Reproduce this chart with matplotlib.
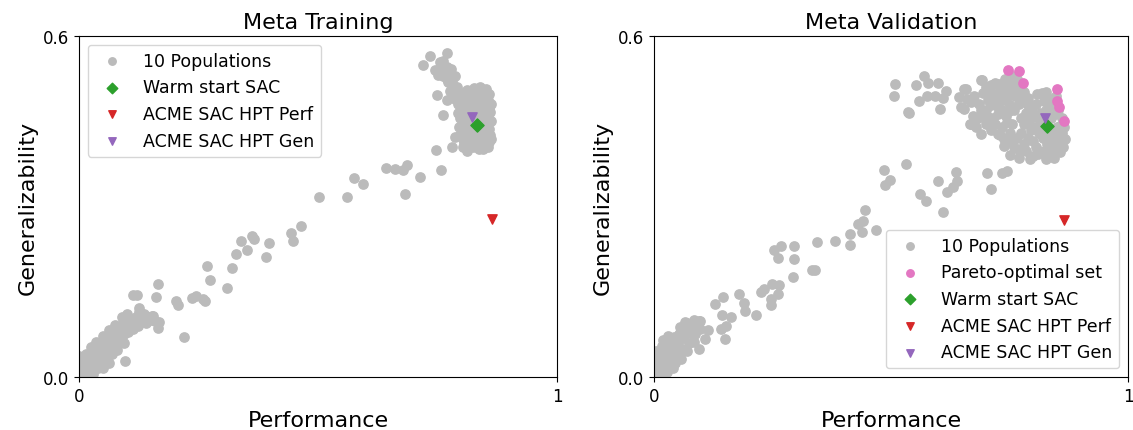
import matplotlib
matplotlib.use("Agg")
import matplotlib.pyplot as plt

# ---- Meta Training (left) ----
train_pop = [
    # dense band near origin
    (0.002, 0.005), (0.005, 0.012), (0.008, 0.020), (0.003, 0.028), (0.000, 0.037),
    (0.012, 0.008), (0.015, 0.018), (0.018, 0.030), (0.022, 0.012), (0.025, 0.022),
    (0.028, 0.038), (0.030, 0.045), (0.033, 0.028), (0.036, 0.018), (0.040, 0.035),
    (0.042, 0.050), (0.045, 0.060), (0.048, 0.040), (0.050, 0.030), (0.053, 0.052),
    (0.056, 0.065), (0.060, 0.045), (0.062, 0.058), (0.065, 0.070), (0.068, 0.050),
    (0.070, 0.062), (0.073, 0.078), (0.076, 0.055), (0.078, 0.068), (0.080, 0.085),
    (0.083, 0.072), (0.086, 0.060), (0.088, 0.080), (0.090, 0.092), (0.094, 0.075),
    (0.097, 0.088), (0.100, 0.098), (0.103, 0.080), (0.106, 0.092), (0.110, 0.100),
    (0.113, 0.085), (0.116, 0.095), (0.120, 0.105), (0.124, 0.090), (0.130, 0.100),
    (0.135, 0.110), (0.140, 0.095), (0.145, 0.105), (0.150, 0.100), (0.155, 0.108),
    (0.160, 0.098), (0.010, 0.000), (0.020, 0.002), (0.030, 0.006), (0.040, 0.015),
    (0.000, 0.015), (0.058, 0.035), (0.070, 0.040), (0.015, 0.040), (0.025, 0.052),
    (0.035, 0.062), (0.050, 0.072), (0.062, 0.082), (0.075, 0.092), (0.090, 0.105),
    (0.100, 0.110), (0.050, 0.015), (0.062, 0.025), (0.080, 0.048), (0.094, 0.060),
    # middle stretch
    (0.105, 0.102), (0.139, 0.099), (0.153, 0.108), (0.167, 0.097), (0.166, 0.087),
    (0.126, 0.121), (0.126, 0.115), (0.097, 0.029), (0.220, 0.071),
    (0.112, 0.144), (0.122, 0.144), (0.162, 0.140), (0.165, 0.164),
    (0.202, 0.134), (0.207, 0.127), (0.237, 0.139), (0.244, 0.143), (0.263, 0.133),
    (0.260, 0.137), (0.274, 0.171), (0.267, 0.195), (0.310, 0.157), (0.321, 0.191),
    (0.328, 0.217), (0.352, 0.223), (0.339, 0.239), (0.363, 0.248), (0.366, 0.243),
    (0.391, 0.211), (0.397, 0.235), (0.447, 0.239), (0.443, 0.254), (0.464, 0.265),
    (0.503, 0.317), (0.560, 0.317), (0.576, 0.350), (0.595, 0.340),
    (0.642, 0.368), (0.661, 0.366), (0.678, 0.365), (0.686, 0.373), (0.682, 0.322),
    (0.713, 0.351), (0.757, 0.364), (0.747, 0.400), (0.780, 0.404),
    (0.761, 0.461), (0.748, 0.496),
    # upper arm of the cluster
    (0.734, 0.565), (0.769, 0.570), (0.720, 0.549), (0.755, 0.554), (0.745, 0.540),
    (0.769, 0.545), (0.762, 0.530), (0.787, 0.530), (0.773, 0.519), (0.776, 0.504),
    (0.769, 0.487), (0.787, 0.489), (0.758, 0.545), (0.765, 0.538), (0.752, 0.532),
    (0.780, 0.520), (0.790, 0.510), (0.782, 0.497), (0.793, 0.480), (0.762, 0.556),
    (0.775, 0.535), (0.770, 0.525), (0.783, 0.510), (0.778, 0.542),
    # main body of the cluster
    (0.800, 0.500), (0.812, 0.505), (0.826, 0.508), (0.839, 0.510), (0.851, 0.506),
    (0.858, 0.498), (0.802, 0.486), (0.815, 0.490), (0.829, 0.494), (0.842, 0.492),
    (0.855, 0.488), (0.862, 0.480), (0.799, 0.470), (0.810, 0.474), (0.822, 0.477),
    (0.836, 0.473), (0.849, 0.476), (0.860, 0.466), (0.797, 0.455), (0.808, 0.458),
    (0.818, 0.462), (0.840, 0.458), (0.853, 0.455), (0.862, 0.450), (0.801, 0.440),
    (0.812, 0.444), (0.826, 0.438), (0.846, 0.441), (0.858, 0.437), (0.798, 0.426),
    (0.810, 0.428), (0.822, 0.424), (0.836, 0.427), (0.850, 0.423), (0.863, 0.419),
    (0.806, 0.412), (0.818, 0.410), (0.831, 0.413), (0.845, 0.408), (0.856, 0.404),
    (0.787, 0.422), (0.804, 0.404), (0.811, 0.398), (0.846, 0.401),
    (0.806, 0.494), (0.820, 0.498), (0.834, 0.500), (0.848, 0.497), (0.805, 0.480),
    (0.818, 0.484), (0.832, 0.484), (0.846, 0.484), (0.858, 0.474), (0.804, 0.464),
    (0.828, 0.466), (0.842, 0.466), (0.855, 0.462), (0.803, 0.448), (0.818, 0.450),
    (0.832, 0.452), (0.850, 0.448), (0.806, 0.434), (0.818, 0.436), (0.838, 0.435),
    (0.852, 0.432), (0.804, 0.418), (0.826, 0.418), (0.840, 0.416), (0.858, 0.414),
    (0.824, 0.404), (0.836, 0.402), (0.860, 0.426), (0.795, 0.440), (0.792, 0.465),
]
train_warm = (0.833, 0.444)
train_perf = (0.864, 0.278)
train_gen = (0.822, 0.457)

# ---- Meta Validation (right) ----
val_pop = [
    # dense band near origin
    (0.000, 0.026), (0.003, 0.005), (0.006, 0.015), (0.010, 0.003), (0.012, 0.022),
    (0.014, 0.040), (0.016, 0.055), (0.018, 0.010), (0.022, 0.030), (0.025, 0.045),
    (0.027, 0.009), (0.030, 0.020), (0.033, 0.060), (0.036, 0.035), (0.040, 0.050),
    (0.042, 0.070), (0.045, 0.025), (0.048, 0.042), (0.050, 0.060), (0.053, 0.075),
    (0.056, 0.032), (0.060, 0.050), (0.062, 0.068), (0.066, 0.085), (0.066, 0.097),
    (0.070, 0.045), (0.073, 0.060), (0.076, 0.078), (0.080, 0.090), (0.084, 0.062),
    (0.086, 0.075), (0.090, 0.088), (0.094, 0.098), (0.098, 0.085), (0.098, 0.099),
    (0.078, 0.095), (0.020, 0.000), (0.040, 0.015), (0.008, 0.032), (0.020, 0.065),
    (0.030, 0.072), (0.055, 0.088), (0.085, 0.100), (0.004, 0.045),
    # middle stretch
    (0.094, 0.050), (0.068, 0.095), (0.095, 0.096), (0.107, 0.067), (0.114, 0.082),
    (0.149, 0.067), (0.142, 0.085), (0.153, 0.090), (0.163, 0.105), (0.144, 0.109),
    (0.128, 0.129), (0.145, 0.140), (0.192, 0.116), (0.190, 0.131), (0.180, 0.146),
    (0.216, 0.109), (0.247, 0.127), (0.246, 0.137), (0.262, 0.146), (0.225, 0.149),
    (0.232, 0.155), (0.248, 0.163), (0.264, 0.161), (0.262, 0.209), (0.253, 0.224),
    (0.267, 0.231), (0.295, 0.208), (0.295, 0.230), (0.293, 0.176), (0.333, 0.189),
    (0.340, 0.189), (0.344, 0.237), (0.382, 0.240), (0.414, 0.233), (0.414, 0.251),
    (0.439, 0.255), (0.431, 0.269), (0.441, 0.275), (0.445, 0.293), (0.469, 0.258),
    (0.485, 0.364), (0.497, 0.347), (0.488, 0.337), (0.532, 0.375), (0.561, 0.322),
    (0.574, 0.310), (0.600, 0.344), (0.619, 0.326), (0.630, 0.334), (0.639, 0.344),
    (0.637, 0.361), (0.609, 0.291), (0.703, 0.359), (0.734, 0.359), (0.745, 0.362),
    (0.711, 0.331),
    # scattered points left of the cluster
    (0.509, 0.515), (0.506, 0.495), (0.553, 0.513), (0.570, 0.529), (0.579, 0.517),
    (0.600, 0.517), (0.616, 0.504), (0.577, 0.495), (0.593, 0.495), (0.609, 0.491),
    (0.559, 0.485), (0.604, 0.471), (0.536, 0.467), (0.539, 0.465), (0.644, 0.492),
    (0.654, 0.472), (0.658, 0.506), (0.668, 0.484), (0.692, 0.522), (0.667, 0.445),
    # left lobe of the cluster
    (0.654, 0.507), (0.661, 0.489), (0.647, 0.475), (0.672, 0.460), (0.668, 0.445),
    (0.689, 0.428), (0.689, 0.522), (0.710, 0.513), (0.745, 0.519), (0.766, 0.525),
    (0.675, 0.495), (0.685, 0.480), (0.695, 0.500), (0.700, 0.470), (0.705, 0.488),
    (0.715, 0.455), (0.718, 0.498), (0.725, 0.475), (0.730, 0.505), (0.735, 0.440),
    (0.738, 0.488), (0.742, 0.460), (0.748, 0.505), (0.752, 0.478), (0.755, 0.445),
    (0.760, 0.515), (0.762, 0.495), (0.770, 0.480), (0.775, 0.505), (0.780, 0.490),
    (0.700, 0.445), (0.712, 0.435), (0.683, 0.455), (0.725, 0.428), (0.731, 0.425),
    (0.695, 0.460), (0.720, 0.518), (0.740, 0.525), (0.755, 0.530),
    (0.700, 0.510), (0.712, 0.500), (0.722, 0.488), (0.732, 0.495), (0.745, 0.492),
    (0.756, 0.505), (0.768, 0.510), (0.712, 0.478), (0.725, 0.462), (0.735, 0.470),
    (0.748, 0.468), (0.760, 0.470), (0.705, 0.458), (0.720, 0.445), (0.745, 0.448),
    (0.690, 0.470), (0.680, 0.440), (0.740, 0.508), (0.728, 0.516),
    # right lobe of the cluster
    (0.780, 0.501), (0.808, 0.498), (0.828, 0.501), (0.849, 0.495), (0.856, 0.442),
    (0.867, 0.419), (0.856, 0.396), (0.828, 0.384), (0.793, 0.384), (0.752, 0.390),
    (0.738, 0.407), (0.738, 0.419), (0.795, 0.470), (0.805, 0.480), (0.815, 0.465),
    (0.822, 0.485), (0.838, 0.478), (0.845, 0.462), (0.852, 0.470), (0.860, 0.455),
    (0.790, 0.450), (0.800, 0.440), (0.812, 0.430), (0.825, 0.445), (0.835, 0.430),
    (0.848, 0.425), (0.860, 0.430), (0.775, 0.430), (0.780, 0.410), (0.790, 0.420),
    (0.805, 0.405), (0.815, 0.395), (0.830, 0.410), (0.842, 0.400), (0.852, 0.410),
    (0.765, 0.420), (0.770, 0.400), (0.785, 0.465), (0.840, 0.392), (0.800, 0.388),
    (0.820, 0.420), (0.810, 0.455), (0.780, 0.445), (0.750, 0.430), (0.865, 0.440),
    (0.790, 0.490), (0.800, 0.458), (0.818, 0.500), (0.832, 0.490), (0.842, 0.488),
    (0.828, 0.470), (0.838, 0.455), (0.850, 0.440), (0.815, 0.442), (0.795, 0.435),
    (0.785, 0.398), (0.800, 0.415), (0.810, 0.392), (0.822, 0.398), (0.820, 0.432),
    (0.835, 0.418), (0.848, 0.412), (0.858, 0.420), (0.760, 0.405), (0.752, 0.415),
    (0.770, 0.385), (0.843, 0.386), (0.862, 0.405), (0.790, 0.478), (0.775, 0.455),
]
val_pareto = [
    (0.746, 0.541), (0.771, 0.539), (0.778, 0.518), (0.850, 0.506),
    (0.851, 0.485), (0.854, 0.475), (0.865, 0.451),
]
val_warm = (0.830, 0.442)
val_perf = (0.865, 0.277)
val_gen = (0.824, 0.456)

GRAY = "#bbbbbb"
S = 45

fig = plt.figure(figsize=(11.33, 4.31), dpi=100)
ax1 = fig.add_axes([0.0697, 0.1230, 0.4219, 0.7912])
ax2 = fig.add_axes([0.5772, 0.1230, 0.4184, 0.7912])


def draw(ax, pop, warm, perf, gen, pareto=None):
    ax.scatter([p[0] for p in pop], [p[1] for p in pop], s=S, c=GRAY,
               label="10 Populations")
    if pareto is not None:
        ax.scatter([p[0] for p in pareto], [p[1] for p in pareto], s=S,
                   c="tab:pink", label="Pareto-optimal set")
    ax.scatter([warm[0]], [warm[1]], s=S, marker="D", c="tab:green",
               label="Warm start SAC")
    ax.scatter([perf[0]], [perf[1]], s=S, marker="v", c="tab:red",
               label="ACME SAC HPT Perf")
    ax.scatter([gen[0]], [gen[1]], s=S, marker="v", c="tab:purple",
               label="ACME SAC HPT Gen")
    ax.set_xlim(0, 1)
    ax.set_ylim(0, 0.6)
    ax.set_xticks([0, 1])
    ax.set_xticklabels(["0", "1"])
    ax.set_yticks([0.0, 0.6])
    ax.set_yticklabels(["0.0", "0.6"])
    ax.tick_params(labelsize=12)
    ax.set_xlabel("Performance", fontsize=16)
    ax.set_ylabel("Generalizability", fontsize=16)


draw(ax1, train_pop, train_warm, train_perf, train_gen)
ax1.set_title("Meta Training", fontsize=16)
ax1.legend(loc="upper left", fontsize=12.5, markerscale=0.8)

draw(ax2, val_pop, val_warm, val_perf, val_gen, pareto=val_pareto)
ax2.set_title("Meta Validation", fontsize=16)
ax2.legend(loc="lower right", fontsize=12.5, markerscale=0.8)

fig.savefig("out.png", dpi=100)
